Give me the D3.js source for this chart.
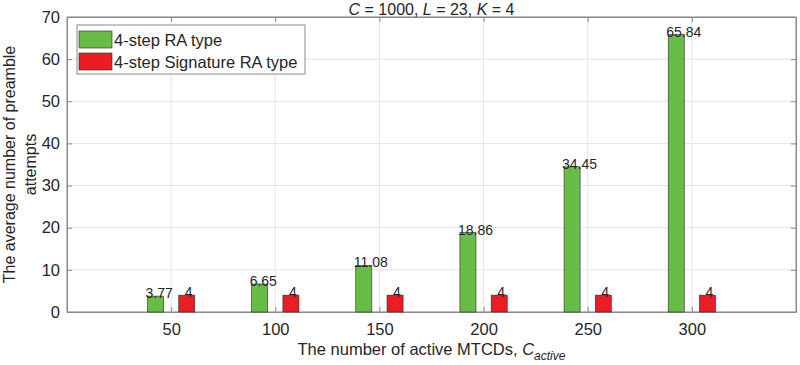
<!DOCTYPE html>
<html lang="en">
<head>
<meta charset="utf-8">
<script src="https://d3js.org/d3.v7.min.js"></script>
<style>
  body { margin: 0; background: #fff; }
  text { font-family: "Liberation Sans", Arial, sans-serif; fill: #262626; }
</style>
</head>
<body>
<script>
// data
var activeMTCDs = [50, 100, 150, 200, 250, 300];
var fourStep = [3.77, 6.65, 11.08, 18.86, 34.45, 65.84];
var signatureRA = [4, 4, 4, 4, 4, 4];
var seriesNames = ["4-step RA type", "4-step Signature RA type"];
var seriesColors = ["#67bd45", "#ec1c24"];
var yTicks = [0, 10, 20, 30, 40, 50, 60, 70];

var width = 800, height = 365;
var margin = {left: 67, right: 4, top: 17, bottom: 53};
var plotW = width - margin.left - margin.right;
var plotH = height - margin.top - margin.bottom;

var svg = d3.select("body").append("svg")
  .attr("width", width)
  .attr("height", height);

var x = d3.scaleLinear().domain([0, 350]).range([0, plotW]);
var y = d3.scaleLinear().domain([0, 70]).range([plotH, 0]);

var g = svg.append("g").attr("transform", "translate(" + margin.left + "," + margin.top + ")");

// grid
g.selectAll(".vgrid").data(activeMTCDs).enter().append("line")
  .attr("x1", d => x(d)).attr("x2", d => x(d))
  .attr("y1", 0).attr("y2", plotH)
  .attr("stroke", "#e4e4e4").attr("stroke-width", 1);
g.selectAll(".hgrid").data(yTicks).enter().append("line")
  .attr("x1", 0).attr("x2", plotW)
  .attr("y1", d => y(d)).attr("y2", d => y(d))
  .attr("stroke", "#e4e4e4").attr("stroke-width", 1);

// axes (ticks inward)
var xAxis = d3.axisBottom(x).tickValues(activeMTCDs).tickSizeInner(-5).tickSizeOuter(0).tickPadding(11);
var yAxis = d3.axisLeft(y).tickValues(yTicks).tickSizeInner(-5).tickSizeOuter(0).tickPadding(7);

g.append("g").attr("transform", "translate(0," + plotH + ")").call(xAxis);
g.append("g").call(yAxis);
g.append("g").call(d3.axisTop(x).tickValues(activeMTCDs).tickSizeInner(-5).tickSizeOuter(0).tickFormat(""));
g.append("g").attr("transform", "translate(" + plotW + ",0)")
  .call(d3.axisRight(y).tickValues(yTicks).tickSizeInner(-5).tickSizeOuter(0).tickFormat(""));

g.selectAll(".domain").attr("stroke", "#8a8a8a");
g.selectAll(".tick line").attr("stroke", "#8a8a8a");
g.selectAll(".tick text").style("font-size", "16.5px").attr("fill", "#262626");

g.append("rect").attr("width", plotW).attr("height", plotH)
  .attr("fill", "none").attr("stroke", "#8a8a8a");

// bars
var offset = 7.5, barW = x(7.7) - x(0);
var series = [fourStep, signatureRA];
series.forEach(function(vals, s) {
  var dx = s === 0 ? -offset : offset;
  g.selectAll(".bar" + s).data(vals).enter().append("rect")
    .attr("x", (d, i) => x(activeMTCDs[i] + dx) - barW / 2)
    .attr("y", d => y(d))
    .attr("width", barW)
    .attr("height", d => plotH - y(d))
    .attr("fill", seriesColors[s])
    .attr("stroke", "#2a2a2a").attr("stroke-width", 0.6);
  g.selectAll(".lab" + s).data(vals).enter().append("text")
    .attr("x", (d, i) => x(activeMTCDs[i] + dx) - (s === 0 ? barW / 2 + 2 : 2))
    .attr("y", d => y(d) - 3)
    .attr("dominant-baseline", "central")
    .style("font-size", "14px")
    .attr("fill", "#111")
    .text(d => d);
});

// title
var title = svg.append("text")
  .attr("x", margin.left + plotW / 2).attr("y", 14.5)
  .attr("text-anchor", "middle").style("font-size", "16px");
[["C", true], [" = 1000, ", false], ["L", true], [" = 23, ", false], ["K", true], [" = 4", false]]
  .forEach(function(p) {
    title.append("tspan").style("font-style", p[1] ? "italic" : "normal").text(p[0]);
  });

// x label
var xl = svg.append("text")
  .attr("x", margin.left + plotW / 2).attr("y", 355)
  .attr("text-anchor", "middle").style("font-size", "16.5px");
xl.append("tspan").text("The number of active MTCDs, ");
xl.append("tspan").style("font-style", "italic").text("C");
xl.append("tspan").style("font-style", "italic").style("font-size", "12px").attr("dy", 5).text("active");

// y label
var yl = svg.append("text")
  .attr("transform", "translate(15," + (margin.top + plotH / 2) + ") rotate(-90)")
  .attr("text-anchor", "middle").style("font-size", "16px");
yl.append("tspan").attr("x", 0).attr("y", 0).text("The average number of preamble");
yl.append("tspan").attr("x", 0).attr("y", 21).text("attempts");

// legend
var leg = svg.append("g").attr("transform", "translate(77,25)");
leg.append("rect").attr("width", 228).attr("height", 49)
  .attr("fill", "#fff").attr("stroke", "#8a8a8a");
seriesNames.forEach(function(name, i) {
  leg.append("rect").attr("x", 2).attr("y", 6 + i * 22).attr("width", 33).attr("height", 17)
    .attr("fill", seriesColors[i]).attr("stroke", "#2a2a2a").attr("stroke-width", 0.6);
  leg.append("text").attr("x", 37).attr("y", 15 + i * 22)
    .attr("dominant-baseline", "central").style("font-size", "16.5px").text(name);
});
</script>
</body>
</html>
